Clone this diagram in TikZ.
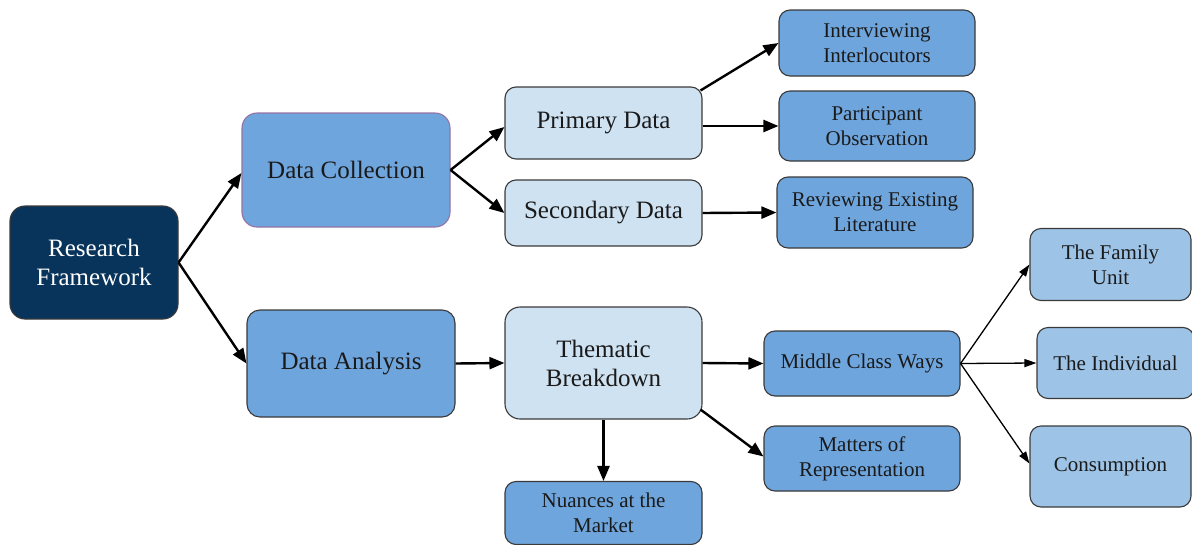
\documentclass[tikz,border=0pt]{standalone}
\usepackage{fontspec}
\setmainfont{Liberation Serif}
\newfontfamily\tnr{Liberation Serif}
\usetikzlibrary{arrows.meta,calc}
\definecolor{navy}{HTML}{08335A}
\definecolor{midblue}{HTML}{6FA5DD}
\definecolor{lightblue}{HTML}{CFE2F2}
\definecolor{paleblue}{HTML}{9DC3E6}
\definecolor{edgegray}{HTML}{3A3A3A}
\definecolor{purpleedge}{HTML}{9673A6}
\definecolor{textdark}{HTML}{1A1A1A}
\tikzset{
  box/.style={draw=edgegray, line width=1.1pt, rounded corners=11pt, align=center, inner sep=0pt, text=textdark},
  bigtext/.style={font=\tnr\fontsize{25}{29}\selectfont},
  smalltext/.style={font=\tnr\fontsize{21}{25}\selectfont},
  conn/.style={line width=2.4pt, -{Triangle[length=15pt,width=12pt]}},
  thinconn/.style={line width=1.3pt, -{Triangle[length=12pt,width=8pt]}}
}
\begin{document}
\begin{tikzpicture}[x=1pt,y=-1pt]
\useasboundingbox (0,0) rectangle (1192,544);
% nodes
\node[box, fill=navy, text=white, bigtext, rounded corners=15pt, minimum width=168pt, minimum height=113pt] (RF) at (94,262.5) {Research\\Framework};
\node[box, draw=purpleedge, fill=midblue, bigtext, rounded corners=15pt, minimum width=208pt, minimum height=114pt] (DC) at (346,170) {Data Collection};
\node[box, fill=midblue, bigtext, rounded corners=13pt, minimum width=208pt, minimum height=107pt] (DA) at (351,363.5) {Data Analysis};
\node[box, fill=lightblue, bigtext, minimum width=197pt, minimum height=72pt] (PD) at (603.5,123) {Primary Data};
\node[box, fill=lightblue, bigtext, minimum width=197pt, minimum height=66pt] (SD) at (603.5,213) {Secondary Data};
\node[box, fill=midblue, smalltext, minimum width=196pt, minimum height=66pt] (II) at (877,43) {Interviewing\\Interlocutors};
\node[box, fill=midblue, smalltext, minimum width=196pt, minimum height=70pt] (PO) at (877,126) {Participant\\Observation};
\node[box, fill=midblue, smalltext, minimum width=196pt, minimum height=71pt] (REL) at (875,212.5) {Reviewing Existing\\Literature};
\node[box, fill=lightblue, bigtext, rounded corners=15pt, minimum width=197pt, minimum height=112pt] (TB) at (603.5,363) {Thematic\\Breakdown};
\node[box, fill=midblue, smalltext, minimum width=196pt, minimum height=65pt] (MCW) at (862,363.5) {Middle Class Ways};
\node[box, fill=midblue, smalltext, minimum width=196pt, minimum height=65pt] (MOR) at (862,458.5) {Matters of\\Representation};
\node[box, fill=midblue, smalltext, minimum width=197pt, minimum height=63pt] (NAM) at (603.5,513) {Nuances at the\\Market};
\node[box, fill=paleblue, smalltext, minimum width=161pt, minimum height=72pt] (FU) at (1110.5,264.5) {The Family\\Unit};
\node[box, fill=paleblue, smalltext, minimum width=157pt, minimum height=71pt] (TI) at (1115.5,363) {The Individual};
\node[box, fill=paleblue, smalltext, minimum width=161pt, minimum height=81pt] (CO) at (1110.5,466.5) {Consumption};
% connectors
\draw[conn] (RF.east) -- ([yshift=-3pt]DC.west);
\draw[conn] (RF.east) -- (DA.west);
\draw[conn] (DC.east) -- ([yshift=-4pt]PD.west);
\draw[conn] (DC.east) -- (SD.west);
\draw[conn] ([yshift=-4pt,xshift=-2pt]PD.north east) -- (II.west);
\draw[conn] (PD.east |- PO.west) -- (PO.west);
\draw[conn] (SD.east) -- (REL.west);
\draw[conn] (DA.east) -- (TB.west);
\draw[conn] (TB.east) -- (MCW.west);
\draw[conn] ([yshift=10pt,xshift=-2pt]TB.south east) -- ([yshift=2pt]MOR.west);
\draw[conn] (TB.south) -- (NAM.north);
\draw[thinconn] (MCW.east) -- (FU.west);
\draw[thinconn] (MCW.east) -- (TI.west);
\draw[thinconn] (MCW.east) -- ([yshift=3pt]CO.west);
\end{tikzpicture}
\end{document}
